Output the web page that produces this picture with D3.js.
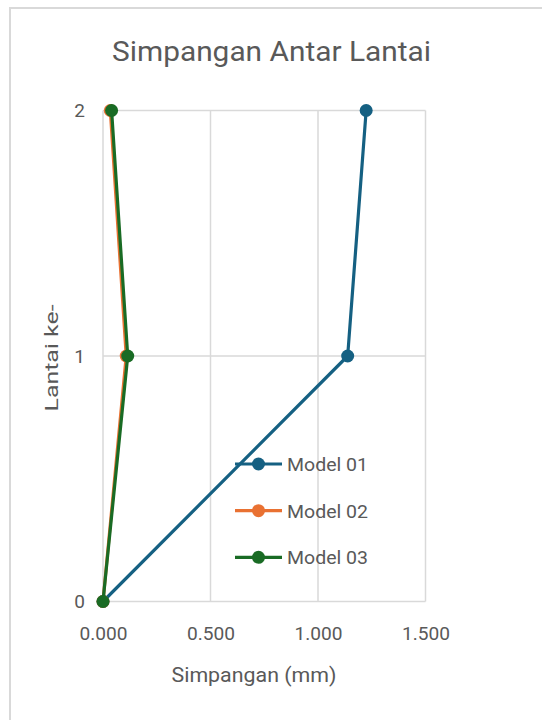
<!DOCTYPE html>
<html><head><meta charset="utf-8">
<script src="https://cdn.jsdelivr.net/npm/d3@7"></script>
<style>body{margin:0;background:#fff;}svg{display:block;font-family:Roboto,"Open Sans",sans-serif;}</style>
</head><body><div id="chart"></div>
<script>
const title = "Simpangan Antar Lantai";
const xLabel = "Simpangan (mm)";
const yLabel = "Lantai ke-";
const floors = [0, 1, 2];
const seriesNames = ["Model 01", "Model 02", "Model 03"];
const model01 = [0, 1.138, 1.224];
const model02 = [0, 0.108, 0.034];
const model03 = [0, 0.115, 0.040];
const xTicks = [0, 0.5, 1.0, 1.5];
const yTicks = [0, 1, 2];
const colors = ["#156082", "#E97132", "#196B24"];

const W = 542, H = 720;
const FONT = "Roboto, 'Open Sans', sans-serif";
const svg = d3.select("#chart").append("svg").attr("width", W).attr("height", H);
svg.append("rect").attr("x", 10).attr("y", 8).attr("width", 600).attr("height", 800)
  .attr("fill", "#fff").attr("stroke", "#d9d9d9").attr("stroke-width", 2);

const x = d3.scaleLinear().domain([0, 1.5]).range([103, 425.5]);
const y = d3.scaleLinear().domain([0, 2]).range([601.5, 110.5]);

// gridlines
const g = svg.append("g");
g.selectAll(".vg").data(xTicks).join("line")
  .attr("x1", d => x(d)).attr("x2", d => x(d)).attr("y1", y(2)).attr("y2", y(0))
  .attr("stroke", "#d9d9d9").attr("stroke-width", 1.5);
g.selectAll(".hg").data(yTicks).join("line")
  .attr("x1", x(0)).attr("x2", x(1.5)).attr("y1", d => y(d)).attr("y2", d => y(d))
  .attr("stroke", "#d9d9d9").attr("stroke-width", 1.5);

// axes
const xAxis = d3.axisBottom(x).tickValues(xTicks).tickFormat(d3.format(".3f")).tickSize(0).tickPadding(25);
const xa = svg.append("g").attr("transform", `translate(0,${y(0)})`).call(xAxis);
xa.select(".domain").remove();
xa.selectAll("text").attr("fill", "#595959").style("font-size", "19px").attr("font-family", FONT)
  .attr("textLength", 48).attr("lengthAdjust", "spacingAndGlyphs");

const yAxis = d3.axisLeft(y).tickValues(yTicks).tickFormat(d3.format("d")).tickSize(0).tickPadding(18);
const ya = svg.append("g").attr("transform", `translate(${x(0)},0)`).call(yAxis);
ya.select(".domain").remove();
ya.selectAll("text").attr("fill", "#595959").style("font-size", "19px").attr("font-family", FONT);

// titles
svg.append("text").attr("x", 271.5).attr("y", 61).attr("text-anchor", "middle")
  .attr("fill", "#595959").style("font-size", "28px").attr("textLength", 319)
  .attr("lengthAdjust", "spacingAndGlyphs").text(title);
svg.append("text").attr("x", 254).attr("y", 682).attr("text-anchor", "middle")
  .attr("fill", "#595959").style("font-size", "20px").attr("textLength", 165)
  .attr("lengthAdjust", "spacingAndGlyphs").text(xLabel);
svg.append("text").attr("transform", "translate(58,358) rotate(-90)").attr("text-anchor", "middle")
  .attr("fill", "#595959").style("font-size", "19px").attr("textLength", 107)
  .attr("lengthAdjust", "spacingAndGlyphs").text(yLabel);

// series
const allSeries = [model01, model02, model03];
const line = d3.line().x(d => x(d[0])).y(d => y(d[1]));
allSeries.forEach((vals, i) => {
  const pts = vals.map((v, k) => [v, floors[k]]);
  svg.append("path").datum(pts).attr("d", line).attr("fill", "none")
    .attr("stroke", colors[i]).attr("stroke-width", 3.2).attr("stroke-linejoin", "round");
  svg.append("g").selectAll("circle").data(pts).join("circle")
    .attr("cx", d => x(d[0])).attr("cy", d => y(d[1])).attr("r", 6.5).attr("fill", colors[i]);
});

// legend
const legY = [464, 510.7, 557.3];
seriesNames.forEach((name, i) => {
  const lg = svg.append("g");
  lg.append("line").attr("x1", 235).attr("x2", 282).attr("y1", legY[i]).attr("y2", legY[i])
    .attr("stroke", colors[i]).attr("stroke-width", 3.2);
  lg.append("circle").attr("cx", 258.5).attr("cy", legY[i]).attr("r", 6.5).attr("fill", colors[i]);
  lg.append("text").attr("x", 287).attr("y", legY[i] + 7).attr("fill", "#595959")
    .style("font-size", "19px").attr("textLength", 81).attr("lengthAdjust", "spacingAndGlyphs").text(name);
});
</script></body></html>
